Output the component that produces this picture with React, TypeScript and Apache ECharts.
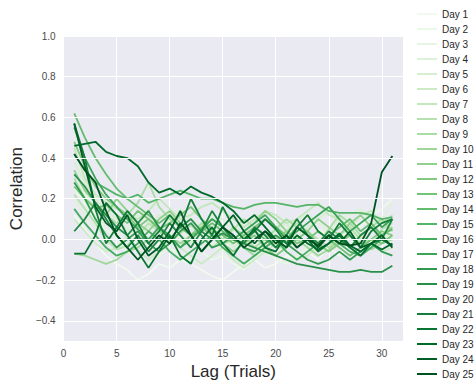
import React, { useEffect, useRef } from "react";
import * as echarts from "echarts";

const lags = [1, 2, 3, 4, 5, 6, 7, 8, 9, 10, 11, 12, 13, 14, 15, 16, 17, 18, 19, 20, 21, 22, 23, 24, 25, 26, 27, 28, 29, 30, 31];

const day1 = [0.12, 0.05, -0.02, -0.08, -0.12, -0.15, -0.2, -0.17, -0.12, -0.14, -0.1, -0.12, -0.15, -0.18, -0.2, -0.16, -0.12, -0.1, -0.14, -0.12, -0.08, -0.1, -0.06, -0.1, -0.04, -0.08, -0.02, 0.02, -0.03, 0.05, 0.02];
const day2 = [0.25, 0.18, 0.1, 0.05, 0.02, -0.03, 0.0, -0.05, -0.02, 0.03, -0.04, 0.0, -0.06, -0.1, -0.08, -0.12, -0.15, -0.1, -0.05, -0.08, -0.02, 0.02, -0.03, 0.05, 0.02, 0.08, 0.1, 0.06, 0.12, 0.15, 0.2];
const day3 = [0.3, 0.22, 0.12, 0.05, 0.0, -0.06, -0.1, -0.12, -0.08, -0.04, -0.08, -0.1, -0.05, -0.02, -0.06, 0.0, 0.04, -0.02, -0.06, -0.1, -0.12, -0.08, -0.04, -0.06, -0.02, 0.0, 0.05, 0.02, -0.02, 0.04, 0.06];
const day4 = [0.2, 0.12, 0.06, 0.1, 0.02, 0.05, 0.12, 0.08, 0.04, 0.1, 0.15, 0.1, 0.06, 0.12, 0.1, 0.04, 0.08, 0.12, 0.06, 0.0, 0.05, 0.1, 0.12, 0.08, 0.04, 0.1, 0.12, 0.15, 0.08, 0.1, 0.18];
const day5 = [0.38, 0.28, 0.2, 0.14, 0.1, 0.05, 0.02, 0.06, 0.12, 0.08, 0.02, -0.02, 0.04, 0.08, 0.02, -0.04, 0.0, -0.06, -0.02, 0.04, 0.08, 0.02, 0.06, 0.1, 0.14, 0.08, 0.04, 0.0, 0.06, 0.02, 0.0];
const day6 = [0.1, 0.04, -0.02, -0.06, -0.04, 0.02, -0.05, -0.1, -0.06, 0.0, -0.04, -0.08, -0.12, -0.08, -0.04, -0.1, -0.14, -0.1, -0.06, -0.02, -0.06, -0.1, -0.08, -0.03, -0.06, 0.0, -0.04, 0.02, -0.02, -0.06, -0.04];
const day7 = [0.45, 0.3, 0.22, 0.18, 0.15, 0.12, 0.1, 0.14, 0.2, 0.15, 0.1, 0.12, 0.16, 0.18, 0.14, 0.1, 0.06, 0.1, 0.14, 0.12, 0.08, 0.1, 0.14, 0.18, 0.12, 0.1, 0.06, 0.12, 0.14, 0.08, 0.12];
const day8 = [0.22, 0.15, 0.08, 0.0, -0.05, -0.03, 0.02, 0.08, 0.04, -0.02, 0.03, 0.07, 0.02, -0.04, 0.0, 0.05, 0.1, 0.06, 0.02, -0.02, 0.04, 0.08, 0.04, 0.0, -0.04, 0.02, 0.06, 0.0, -0.03, 0.05, 0.08];
const day9 = [0.3, 0.2, 0.16, 0.12, 0.08, 0.12, 0.18, 0.28, 0.16, 0.1, 0.06, 0.02, 0.08, 0.04, 0.0, 0.06, 0.02, -0.04, 0.0, 0.05, 0.1, 0.06, 0.02, -0.02, 0.05, 0.12, 0.08, 0.02, 0.06, 0.1, 0.04];
const day10 = [-0.07, -0.08, -0.1, -0.12, -0.1, -0.06, -0.04, 0.0, 0.04, 0.02, -0.02, 0.02, 0.06, 0.02, -0.02, 0.0, -0.04, -0.08, -0.04, 0.0, 0.04, 0.0, -0.04, -0.08, -0.05, 0.0, 0.02, -0.02, -0.05, -0.02, 0.0];
const day11 = [0.34, 0.24, 0.18, 0.12, 0.2, 0.14, 0.08, 0.04, 0.1, 0.14, 0.08, 0.02, 0.06, 0.1, 0.06, 0.0, 0.04, 0.08, 0.14, 0.1, 0.04, 0.0, 0.04, 0.1, 0.06, 0.02, 0.08, 0.12, 0.06, 0.02, 0.06];
const day12 = [0.48, 0.36, 0.26, 0.2, 0.16, 0.12, 0.06, 0.1, 0.06, 0.0, -0.04, 0.02, 0.06, 0.02, -0.02, -0.06, -0.02, 0.02, -0.04, -0.08, -0.04, 0.0, 0.04, -0.02, -0.06, -0.02, 0.02, -0.04, 0.0, 0.04, 0.02];
const day13 = [0.26, 0.2, 0.15, 0.17, 0.12, 0.08, 0.14, 0.1, 0.05, 0.08, 0.12, 0.16, 0.1, 0.05, 0.02, -0.02, 0.02, 0.06, 0.1, 0.06, 0.02, -0.02, 0.0, 0.04, 0.0, -0.04, -0.08, -0.04, 0.0, -0.02, 0.02];
const day14 = [0.62, 0.5, 0.4, 0.32, 0.25, 0.2, 0.16, 0.12, 0.08, 0.12, 0.06, 0.02, 0.04, 0.08, 0.04, 0.0, -0.02, 0.04, 0.0, -0.04, 0.0, 0.06, 0.02, -0.02, 0.02, 0.06, 0.1, 0.04, 0.08, 0.02, 0.05];
const day15 = [0.42, 0.34, 0.28, 0.25, 0.22, 0.2, 0.22, 0.18, 0.2, 0.22, 0.24, 0.22, 0.2, 0.2, 0.18, 0.16, 0.15, 0.17, 0.18, 0.18, 0.17, 0.16, 0.17, 0.17, 0.14, 0.13, 0.13, 0.13, 0.12, 0.1, 0.11];
const day16 = [0.15, 0.08, 0.02, -0.04, -0.08, -0.06, -0.02, 0.04, 0.0, -0.06, -0.1, -0.06, -0.02, 0.02, -0.04, -0.08, -0.12, -0.08, -0.04, 0.0, -0.06, -0.1, -0.06, -0.02, 0.02, -0.02, -0.06, -0.08, -0.04, 0.0, -0.03];
const day17 = [0.55, 0.4, 0.3, 0.22, 0.16, 0.1, 0.05, 0.0, 0.06, 0.02, -0.04, 0.0, 0.05, 0.1, 0.06, 0.0, 0.04, 0.08, 0.12, 0.06, 0.0, 0.04, 0.08, 0.12, 0.16, 0.1, 0.04, 0.08, 0.12, 0.06, 0.1];
const day18 = [0.28, 0.2, 0.1, 0.02, -0.04, 0.0, 0.04, -0.02, -0.06, -0.02, 0.04, 0.08, 0.02, -0.04, -0.02, 0.02, -0.04, -0.06, -0.02, 0.02, -0.02, -0.06, -0.1, -0.12, -0.1, -0.06, -0.1, -0.06, -0.02, -0.06, -0.08];
const day19 = [0.32, 0.26, 0.18, 0.12, 0.06, 0.02, 0.08, 0.14, 0.06, 0.0, 0.06, 0.1, 0.04, 0.0, 0.03, 0.0, -0.02, -0.04, -0.06, -0.08, -0.1, -0.12, -0.13, -0.14, -0.15, -0.16, -0.16, -0.15, -0.16, -0.16, -0.13];
const day20 = [0.04, 0.1, 0.18, 0.1, 0.02, -0.04, 0.02, -0.06, 0.0, 0.08, 0.02, -0.04, 0.04, 0.14, 0.06, 0.0, -0.02, 0.06, 0.02, -0.04, 0.02, 0.1, 0.02, -0.02, 0.04, 0.0, -0.04, 0.02, 0.06, 0.0, 0.1];
const day21 = [0.57, 0.4, 0.15, -0.02, 0.06, 0.14, 0.08, -0.02, 0.04, 0.12, 0.06, 0.2, 0.1, 0.02, 0.16, 0.06, 0.0, 0.04, 0.1, 0.05, -0.02, 0.06, 0.12, 0.04, 0.0, 0.08, 0.02, -0.04, 0.04, 0.08, 0.1];
const day22 = [-0.07, -0.07, 0.02, 0.18, 0.12, 0.02, -0.06, -0.14, -0.06, 0.02, -0.08, -0.12, 0.0, 0.06, -0.02, -0.08, 0.0, 0.05, -0.04, -0.06, 0.02, -0.04, 0.0, -0.06, -0.02, 0.02, -0.04, -0.08, -0.02, 0.0, -0.03];
const day23 = [0.46, 0.47, 0.48, 0.43, 0.41, 0.4, 0.36, 0.28, 0.23, 0.25, 0.22, 0.26, 0.23, 0.21, 0.18, 0.14, 0.08, 0.12, 0.06, 0.0, -0.04, 0.02, -0.02, -0.05, -0.02, 0.03, -0.03, -0.06, -0.02, -0.05, -0.02];
const day24 = [0.57, 0.36, 0.16, 0.08, 0.04, 0.12, 0.0, -0.08, -0.04, 0.04, 0.14, 0.02, -0.06, 0.0, 0.06, 0.12, 0.04, -0.02, 0.04, 0.0, -0.04, 0.06, 0.02, -0.04, 0.02, -0.02, 0.04, -0.04, -0.02, 0.02, -0.04];
const day25 = [0.42, 0.34, 0.28, 0.14, 0.02, -0.04, -0.1, -0.04, 0.02, -0.02, 0.08, 0.02, -0.06, 0.0, 0.06, 0.02, -0.04, 0.0, 0.04, -0.02, 0.02, -0.04, 0.0, -0.03, 0.02, -0.02, -0.03, -0.02, 0.08, 0.33, 0.41];

const dayNames = ["Day 1", "Day 2", "Day 3", "Day 4", "Day 5", "Day 6", "Day 7", "Day 8", "Day 9", "Day 10", "Day 11", "Day 12", "Day 13", "Day 14", "Day 15", "Day 16", "Day 17", "Day 18", "Day 19", "Day 20", "Day 21", "Day 22", "Day 23", "Day 24", "Day 25"];
const dayValues = [day1, day2, day3, day4, day5, day6, day7, day8, day9, day10, day11, day12, day13, day14, day15, day16, day17, day18, day19, day20, day21, day22, day23, day24, day25];

const yGridValues = [-0.4, -0.2, 0.0, 0.2, 0.4, 0.6, 0.8, 1.0];

// matplotlib "Greens" colormap stops
const greensStops = ["#f7fcf5", "#e5f5e0", "#c7e9c0", "#a1d99b", "#74c476", "#41ab5d", "#238b45", "#006d2c", "#00441b"];

function hexToRgb(h: string) {
  return [parseInt(h.slice(1, 3), 16), parseInt(h.slice(3, 5), 16), parseInt(h.slice(5, 7), 16)];
}
function greens(t: number) {
  const n = greensStops.length - 1;
  const p = Math.min(Math.max(t, 0), 1) * n;
  const i = Math.min(Math.floor(p), n - 1);
  const f = p - i;
  const a = hexToRgb(greensStops[i]);
  const b = hexToRgb(greensStops[i + 1]);
  const c = a.map((v, k) => Math.round(v + (b[k] - v) * f));
  return `rgb(${c[0]},${c[1]},${c[2]})`;
}

const FONT = "'Liberation Sans', Arial, sans-serif";

export default function App() {
  const ref = useRef<HTMLDivElement>(null);
  useEffect(() => {
    if (!ref.current) return;
    const chart = echarts.init(ref.current, undefined, { renderer: "svg" });
    const n = dayNames.length;
    const series: any[] = dayNames.map((name, i) => {
      const color = greens((i + 1) / (n + 1));
      return {
        name,
        type: "line",
        data: lags.map((l, j) => [l, dayValues[i][j]]),
        symbol: "none",
        color,
        lineStyle: { color, width: 1.8 },
        z: 3,
      };
    });
    series.push({
      name: "__grid",
      type: "line",
      data: [],
      silent: true,
      z: 1,
      markLine: {
        silent: true,
        symbol: ["none", "none"],
        animation: false,
        label: { show: false },
        lineStyle: { color: "#ffffff", width: 1, type: "solid" },
        data: yGridValues.map((v) => ({ yAxis: v })),
      },
    });
    chart.setOption({
      animation: false,
      textStyle: { fontFamily: FONT },
      grid: {
        left: 57,
        right: 71,
        top: 36,
        bottom: 41,
        show: true,
        backgroundColor: "#EAEAF2",
        borderWidth: 0,
      },
      legend: {
        type: "plain",
        orient: "vertical",
        left: 412,
        top: 3,
        height: 380,
        data: dayNames,
        icon: "rect",
        itemWidth: 20,
        itemHeight: 2,
        itemGap: 3,
        textStyle: { fontSize: 10, lineHeight: 12, color: "#262626", fontFamily: FONT },
      },
      xAxis: {
        type: "value",
        min: 0,
        max: 32,
        interval: 5,
        name: "Lag (Trials)",
        nameLocation: "middle",
        nameGap: 20,
        nameTextStyle: { fontSize: 17, color: "#262626", fontFamily: FONT, verticalAlign: "top" },
        axisLine: { show: false },
        axisTick: { show: false },
        axisLabel: {
          color: "#4a4a4a",
          fontSize: 10,
          margin: 7,
          fontFamily: FONT,
          formatter: (v: number) => (Math.abs(v % 5) < 1e-9 ? String(v) : ""),
        },
        splitLine: { show: true, lineStyle: { color: "#ffffff", width: 1 } },
      },
      yAxis: {
        type: "value",
        min: -0.5,
        max: 1.0,
        interval: 0.1,
        name: "Correlation",
        nameLocation: "middle",
        nameGap: 21,
        nameTextStyle: { fontSize: 17, color: "#262626", fontFamily: FONT },
        axisLine: { show: false },
        axisTick: { show: false },
        axisLabel: {
          color: "#4a4a4a",
          fontSize: 10,
          margin: 8,
          fontFamily: FONT,
          formatter: (v: number) => {
            const k = Math.round(v * 10);
            if (k % 2 !== 0) return "";
            const s = Math.abs(k / 10).toFixed(1);
            return k < 0 ? "\u2212" + s : s;
          },
        },
        splitLine: { show: false },
      },
      series,
    });
    return () => chart.dispose();
  }, []);
  return (
    <div
      ref={ref}
      style={{ position: "fixed", left: 0, top: 0, width: 474, height: 385, background: "#ffffff" }}
    />
  );
}
